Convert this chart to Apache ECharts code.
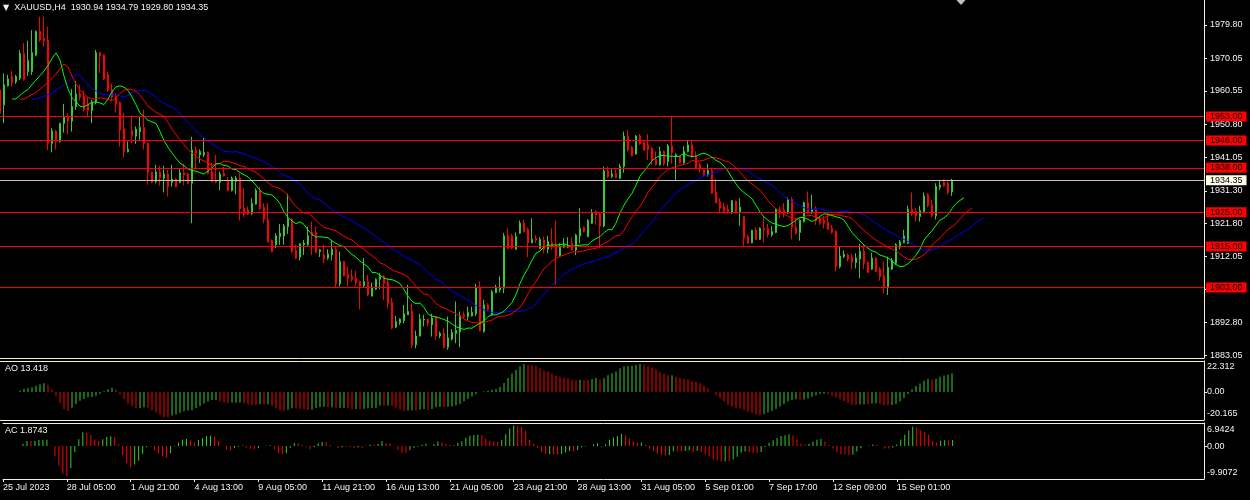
<!DOCTYPE html>
<html><head><meta charset="utf-8">
<script src="https://cdn.jsdelivr.net/npm/echarts@6/dist/echarts.min.js"></script>
<style>html,body{margin:0;padding:0;background:#000}#c{width:1250px;height:500px}</style>
</head><body><div id="c"></div>
<script>
// ---- data (XAUUSD H4) ----
const opens = [1960.8,1956.4,1962.0,1964.7,1963.2,1964.2,1971.5,1966.2,1966.2,1971.0,1977.9,1975.9,1975.4,1945.2,1948.8,1945.7,1951.0,1952.8,1951.7,1955.9,1959.6,1959.0,1956.7,1954.8,1957.2,1971.7,1971.0,1965.2,1960.8,1958.9,1957.1,1949.4,1942.8,1948.9,1947.3,1948.6,1949.8,1945.2,1936.7,1934.0,1936.8,1935.0,1936.2,1933.7,1934.7,1933.7,1936.6,1936.2,1933.5,1943.2,1941.8,1941.8,1942.5,1936.9,1934.5,1933.8,1936.4,1934.0,1931.4,1934.0,1935.0,1926.2,1925.7,1924.7,1927.4,1931.5,1926.4,1922.8,1916.7,1915.5,1917.9,1918.1,1920.8,1923.0,1913.8,1911.9,1915.5,1915.5,1919.1,1919.1,1913.5,1912.5,1911.6,1912.5,1914.2,1904.1,1910.6,1906.7,1906.2,1905.6,1904.7,1903.5,1904.7,1900.5,1902.5,1905.4,1906.2,1904.4,1898.6,1891.4,1892.7,1893.3,1895.0,1896.0,1886.2,1888.8,1893.5,1893.7,1892.1,1894.5,1888.8,1889.6,1885.5,1887.9,1889.6,1890.1,1895.0,1894.5,1894.7,1895.3,1903.1,1890.1,1897.9,1895.0,1901.5,1902.3,1902.8,1918.1,1918.1,1914.2,1918.9,1921.8,1920.0,1916.1,1917.4,1914.5,1916.9,1914.2,1916.1,1915.5,1912.2,1914.8,1914.8,1915.95,1914.0,1918.1,1920.6,1917.9,1921.8,1925.2,1924.5,1921.0,1937.1,1935.45,1936.4,1935.0,1938.4,1947.3,1944.0,1942.1,1947.3,1945.4,1944.7,1943.7,1940.5,1938.9,1942.8,1939.8,1944.4,1941.3,1941.3,1939.5,1942.8,1944.7,1941.3,1938.9,1937.4,1935.9,1937.2,1930.8,1928.1,1926.7,1925.9,1924.9,1928.3,1925.2,1923.75,1917.9,1916.1,1919.85,1917.1,1920.3,1920.3,1918.4,1919.1,1925.9,1925.7,1924.9,1928.8,1920.6,1919.1,1922.3,1927.8,1925.2,1925.9,1923.3,1922.6,1922.0,1920.3,1919.4,1909.1,1912.05,1912.5,1911.9,1910.3,1911.3,1913.5,1910.3,1908.35,1911.6,1908.35,1906.4,1903.1,1908.35,1910.1,1914.8,1916.1,1915.95,1925.9,1925.2,1923.75,1925.2,1930.1,1927.2,1923.95,1932.3,1933.7,1933.5,1930.94];
const closes = [1954.0,1962.3,1964.0,1962.9,1964.7,1971.5,1963.9,1969.4,1971.7,1977.9,1975.4,1975.2,1945.2,1948.8,1945.7,1951.0,1952.8,1951.7,1955.9,1959.6,1958.7,1955.0,1954.8,1957.2,1971.7,1970.7,1964.0,1960.8,1958.7,1956.6,1949.1,1942.8,1943.4,1947.3,1949.3,1949.8,1945.2,1936.6,1933.7,1936.8,1935.2,1936.2,1932.5,1934.7,1932.5,1936.6,1935.9,1933.5,1943.2,1942.1,1942.8,1942.5,1936.4,1934.0,1933.8,1936.2,1935.6,1931.4,1935.0,1935.0,1926.0,1924.5,1924.5,1927.6,1931.4,1926.0,1923.0,1916.4,1913.5,1918.1,1918.9,1921.0,1923.0,1913.5,1911.6,1915.75,1915.95,1918.1,1918.1,1913.2,1914.0,1911.3,1912.8,1914.2,1904.1,1910.6,1906.4,1905.7,1905.4,1904.4,1903.5,1904.7,1900.8,1903.1,1905.4,1906.2,1904.25,1898.4,1891.1,1893.0,1893.7,1895.3,1896.0,1886.2,1888.8,1893.7,1893.7,1892.55,1894.0,1888.8,1889.6,1885.5,1888.2,1889.8,1890.4,1894.7,1894.5,1895.7,1895.7,1903.1,1890.4,1897.9,1896.6,1901.8,1903.1,1902.8,1918.1,1914.5,1914.5,1917.9,1921.8,1919.4,1916.1,1917.1,1916.9,1917.1,1914.2,1916.4,1914.8,1912.2,1914.8,1915.5,1915.2,1914.0,1918.3,1920.3,1919.4,1922.6,1924.7,1924.2,1921.0,1937.1,1935.45,1936.2,1935.2,1938.4,1947.3,1943.2,1941.5,1947.3,1945.0,1943.2,1943.4,1940.3,1938.9,1942.8,1939.2,1944.4,1942.5,1941.8,1939.5,1942.8,1944.7,1941.3,1937.9,1937.9,1935.9,1937.2,1930.6,1927.8,1926.2,1925.2,1925.2,1928.4,1925.1,1926.5,1917.6,1915.95,1919.7,1917.1,1920.3,1919.85,1918.4,1919.4,1925.9,1925.2,1924.7,1928.8,1920.6,1918.9,1922.6,1927.8,1925.2,1925.9,1922.6,1921.8,1921.8,1920.0,1919.1,1909.1,1912.2,1912.7,1911.3,1910.3,1911.6,1913.5,1910.1,1907.4,1911.6,1907.7,1906.2,1903.1,1908.9,1910.9,1915.5,1916.4,1918.1,1925.9,1924.5,1923.95,1925.5,1929.8,1926.9,1923.95,1932.5,1933.0,1932.7,1930.8,1934.35];
const highs = [1963.2,1965.7,1965.2,1966.4,1965.2,1972.5,1974.5,1975.2,1978.3,1978.2,1982.2,1982.2,1979.3,1949.6,1949.1,1951.2,1956.7,1954.0,1961.1,1963.4,1962.3,1960.6,1958.7,1957.9,1972.5,1972.0,1971.2,1966.2,1962.7,1959.8,1957.4,1954.0,1945.7,1953.0,1950.1,1953.0,1955.0,1945.4,1936.9,1938.9,1938.6,1938.6,1937.4,1938.9,1935.0,1937.9,1939.2,1936.6,1947.1,1944.2,1943.4,1946.9,1942.8,1939.5,1941.8,1936.9,1938.4,1935.3,1935.5,1935.6,1936.4,1932.0,1926.7,1929.1,1932.0,1932.5,1927.65,1927.65,1917.1,1918.9,1921.6,1921.6,1930.4,1923.3,1915.5,1915.95,1916.9,1920.8,1922.3,1920.8,1914.2,1915.5,1914.2,1916.9,1914.8,1913.5,1910.8,1909.1,1908.2,1907.9,1905.0,1911.6,1906.7,1904.4,1905.7,1907.2,1906.7,1905.7,1899.9,1894.7,1894.0,1897.9,1903.8,1898.4,1890.4,1895.3,1895.0,1894.0,1895.3,1894.7,1890.1,1891.1,1894.5,1890.8,1898.9,1896.0,1896.0,1897.4,1897.4,1904.1,1904.7,1899.4,1898.4,1902.3,1903.8,1906.2,1918.9,1920.3,1918.7,1919.1,1922.6,1922.8,1920.6,1923.3,1918.3,1917.7,1917.9,1918.1,1920.3,1922.6,1915.95,1917.4,1917.7,1917.7,1918.7,1926.2,1920.8,1923.0,1925.9,1925.7,1924.9,1938.4,1938.4,1937.6,1937.6,1939.2,1948.6,1949.1,1944.4,1947.6,1947.9,1946.0,1947.9,1944.2,1942.8,1944.2,1943.1,1945.0,1953.0,1942.3,1941.6,1944.4,1946.2,1946.0,1942.8,1939.5,1937.6,1939.2,1937.9,1934.7,1929.1,1927.8,1927.2,1928.6,1928.4,1929.1,1923.9,1918.4,1919.85,1920.6,1920.6,1923.75,1921.6,1921.0,1926.2,1926.7,1927.65,1929.4,1929.4,1923.3,1923.0,1928.1,1931.1,1930.1,1926.7,1923.9,1923.9,1924.7,1921.3,1919.7,1915.0,1913.8,1913.0,1912.8,1913.0,1915.75,1915.5,1910.6,1913.2,1911.9,1908.9,1910.6,1912.05,1911.6,1915.95,1916.9,1919.85,1926.9,1930.8,1926.2,1926.9,1930.8,1930.6,1928.6,1933.5,1934.5,1934.7,1934.0,1934.79];
const lows = [1953.0,1951.1,1961.8,1961.8,1962.6,1963.7,1963.5,1964.9,1965.2,1970.6,1974.9,1973.5,1943.2,1942.5,1943.4,1945.4,1948.3,1947.8,1948.6,1955.0,1957.7,1954.5,1953.2,1951.1,1956.6,1965.7,1963.7,1960.3,1957.4,1954.2,1944.2,1941.0,1942.5,1945.2,1945.0,1946.2,1943.4,1933.0,1933.5,1933.5,1932.8,1930.8,1929.6,1932.5,1932.3,1933.5,1933.0,1933.3,1921.8,1937.6,1939.5,1941.1,1936.1,1933.8,1933.5,1931.4,1935.45,1931.1,1931.1,1930.3,1922.6,1923.6,1924.2,1924.2,1927.2,1925.7,1921.8,1916.2,1913.3,1914.5,1915.5,1915.5,1918.7,1913.0,1911.3,1910.9,1912.5,1915.2,1912.5,1913.0,1911.9,1910.1,1911.1,1910.9,1902.8,1903.3,1906.2,1903.5,1904.7,1903.3,1896.6,1902.8,1900.5,1900.35,1902.3,1902.5,1899.4,1896.9,1890.8,1891.1,1892.1,1892.55,1895.0,1885.2,1885.2,1888.65,1891.6,1891.6,1888.65,1887.7,1888.2,1885.2,1884.75,1887.5,1886.7,1885.5,1894.0,1893.5,1894.5,1894.7,1890.1,1889.8,1895.95,1894.7,1901.3,1901.5,1901.3,1914.2,1914.2,1914.0,1918.7,1919.1,1911.9,1915.95,1915.95,1914.2,1913.0,1913.0,1914.0,1903.8,1911.9,1914.5,1914.5,1913.8,1912.5,1915.95,1919.1,1917.7,1921.6,1921.3,1914.5,1920.6,1935.0,1935.0,1935.0,1934.7,1936.6,1942.8,1941.3,1941.8,1944.7,1943.1,1940.3,1938.9,1938.7,1938.6,1938.6,1938.4,1939.2,1934.5,1939.2,1939.2,1942.5,1940.8,1937.6,1936.6,1935.45,1935.45,1930.4,1927.65,1924.9,1924.7,1924.7,1924.5,1924.7,1921.0,1915.2,1915.75,1915.95,1916.9,1916.9,1916.1,1917.7,1917.9,1918.9,1923.3,1923.55,1924.5,1917.1,1918.4,1916.7,1922.0,1924.5,1924.5,1921.3,1921.3,1920.3,1919.85,1918.7,1907.7,1908.6,1911.6,1910.6,1908.35,1908.6,1905.7,1908.35,1907.2,1908.15,1907.4,1905.0,1901.3,1900.8,1908.15,1909.6,1914.2,1915.95,1915.75,1923.95,1922.3,1922.3,1924.9,1926.5,1923.55,1922.9,1931.55,1932.5,1930.1,1929.8];

const dateTicks = ['25 Jul 2023','28 Jul 05:00','1 Aug 21:00','4 Aug 13:00','9 Aug 05:00','11 Aug 21:00','16 Aug 13:00','21 Aug 05:00','23 Aug 21:00','28 Aug 13:00','31 Aug 05:00','5 Sep 01:00','7 Sep 17:00','12 Sep 09:00','15 Sep 01:00'];
const priceTicks = [1979.80,1970.05,1960.55,1950.80,1941.05,1931.30,1921.80,1912.05,1902.55,1892.80,1883.05];
const levels = [1953.00,1946.00,1938.00,1925.00,1915.00,1903.00];
const lastPrice = 1934.35;
const aoTicks = [22.312, 0, -20.165];
const acTicks = [6.9424, 0, -9.9072];
const headerText = 'XAUUSD,H4  1930.94 1934.79 1929.80 1934.35';
const aoTitle = 'AO 13.418';
const acTitle = 'AC 1.8743';

// ---- derived ----
const N = opens.length;
const SLOTS = 302;
const TICK_STEP = 16;
const cats = [];
for (let i = 0; i < SLOTS; i++) cats.push(i % TICK_STEP === 0 && dateTicks[i / TICK_STEP] ? dateTicks[i / TICK_STEP] : String(i));

const candle = opens.map((o, i) => [o, closes[i], lows[i], highs[i]]);
const median = highs.map((h, i) => (h + lows[i]) / 2);

function smma(src, n) { const r = []; let s = src[0]; for (let i = 0; i < src.length; i++) { s = i === 0 ? src[0] : (s * (n - 1) + src[i]) / n; r.push(s); } return r; }
function shifted(arr, sh) { const out = []; for (let j = 0; j < SLOTS; j++) { const k = j - sh; out.push(k >= 0 && k < arr.length ? +arr[k].toFixed(3) : '-'); } return out; }
function sma(src, n, i) { let s = 0, c = 0; for (let k = Math.max(0, i - n + 1); k <= i; k++) { s += src[k]; c++; } return s / c; }

const jaw = shifted(smma(median, 13), 8);
const teeth = shifted(smma(median, 8), 5);
const lips = shifted(smma(median, 5), 3);

const ao = median.map((_, i) => sma(median, 5, i) - sma(median, 34, i));
const ac = ao.map((v, i) => v - sma(ao, 5, i));

const UP = '#32cd32', DN = '#ff0000', CREAM = '#f0f0dc', TXT = '#f4f4f4';
const FONT = 'Liberation Sans';
function colorBars(arr) { return arr.map((v, i) => ({ value: +v.toFixed(4), itemStyle: { color: i > 0 && v > arr[i - 1] ? UP : DN } })); }

const gridBase = { left: 0, right: 46, show: false };
const tickFilter = (idx) => idx % TICK_STEP === 0 && idx < N;
function xAx(gi, pos, showLabels, showLine) {
  return {
    type: 'category', gridIndex: gi, data: cats, boundaryGap: false, position: pos,
    axisLine: { show: showLine, onZero: false, lineStyle: { color: CREAM, width: 1 } },
    axisTick: { show: showLabels, length: 3, interval: tickFilter, lineStyle: { color: CREAM } },
    axisLabel: { show: showLabels, interval: tickFilter, align: 'left', margin: 4, color: TXT, fontSize: 9, fontFamily: FONT },
    splitLine: { show: false }
  };
}
function indLabel(ticks, pad) {
  return {
    customValues: ticks, margin: 3, color: TXT, fontSize: 9, fontFamily: FONT,
    formatter: (v) => {
      if (Math.abs(v) < 1e-9) return '{m|0.00}';
      return v > 0 ? '{t|' + v + '}' : '{b|' + v + '}';
    },
    rich: {
      m: { fontSize: 9, fontFamily: FONT, color: TXT },
      t: { fontSize: 9, fontFamily: FONT, color: TXT, padding: [pad, 0, 0, 0] },
      b: { fontSize: 9, fontFamily: FONT, color: TXT, padding: [0, 0, pad, 0] }
    }
  };
}
const yLine = { show: true, lineStyle: { color: CREAM, width: 1 } };

const levelLines = levels.map(v => ({ yAxis: v, lineStyle: { color: '#ff0000' }, label: { backgroundColor: '#ff0000' } }));
levelLines.push({ yAxis: lastPrice, lineStyle: { color: '#c0c0c0' }, label: { backgroundColor: '#ffffe8' } });

const titleStyle = { color: TXT, fontSize: 9, fontWeight: 'normal', fontFamily: FONT };

const chart = echarts.init(document.getElementById('c'), null, { renderer: 'canvas' });
chart.setOption({
  backgroundColor: '#000000',
  animation: false,
  title: [
    { text: '{tri|▼}' + headerText, left: 3, top: 3, padding: 0, textStyle: Object.assign({}, titleStyle, { rich: { tri: { fontSize: 8, color: TXT, fontFamily: 'DejaVu Sans', padding: [0, 5, 0, 0] } } }) },
    { text: aoTitle, left: 5, top: 364, padding: 0, textStyle: titleStyle },
    { text: acTitle, left: 5, top: 426, padding: 0, textStyle: titleStyle }
  ],
  graphic: [{ type: 'polygon', shape: { points: [[956.5, 0], [965.5, 0], [961, 5]] }, style: { fill: '#c0c0c0' }, silent: true }],
  grid: [
    Object.assign({}, gridBase, { top: 0, height: 358 }),
    Object.assign({}, gridBase, { top: 361, height: 59 }),
    Object.assign({}, gridBase, { top: 423, height: 56 })
  ],
  xAxis: [
    xAx(0, 'bottom', false, true),
    xAx(1, 'bottom', false, true), xAx(1, 'top', false, true),
    xAx(2, 'bottom', true, true), xAx(2, 'top', false, true)
  ],
  yAxis: [
    { type: 'value', gridIndex: 0, position: 'right', min: 1882.37, max: 1987.11,
      splitLine: { show: false }, axisLine: yLine,
      axisTick: { show: true, length: 3, customValues: priceTicks, lineStyle: { color: CREAM } },
      axisLabel: { customValues: priceTicks, margin: 6, color: TXT, fontSize: 9, fontFamily: FONT, formatter: v => v.toFixed(2) } },
    { type: 'value', gridIndex: 1, position: 'right', min: aoTicks[2], max: aoTicks[0],
      splitLine: { show: false }, axisLine: yLine,
      axisTick: { show: true, length: 3, customValues: [0], lineStyle: { color: CREAM } },
      axisLabel: indLabel(aoTicks, 12) },
    { type: 'value', gridIndex: 2, position: 'right', min: acTicks[2], max: acTicks[0],
      splitLine: { show: false }, axisLine: yLine,
      axisTick: { show: true, length: 3, customValues: [0], lineStyle: { color: CREAM } },
      axisLabel: indLabel(acTicks, 13) }
  ],
  series: [
    { type: 'candlestick', xAxisIndex: 0, yAxisIndex: 0, data: candle, barWidth: 2,
      itemStyle: { color: UP, color0: DN, borderColor: UP, borderColor0: DN, borderWidth: 1 },
      markLine: { silent: true, symbol: ['none', 'none'], animation: false,
        lineStyle: { type: 'solid', width: 1 },
        label: { show: true, position: 'end', distance: 2, color: '#000', fontSize: 9, fontFamily: FONT, padding: [0, 4, 0, 4], lineHeight: 10, formatter: p => Number(p.value).toFixed(2) },
        data: levelLines } },
    { type: 'line', name: 'jaw', xAxisIndex: 0, yAxisIndex: 0, data: jaw, showSymbol: false, silent: true, lineStyle: { color: '#0000ff', width: 1 }, z: 3 },
    { type: 'line', name: 'teeth', xAxisIndex: 0, yAxisIndex: 0, data: teeth, showSymbol: false, silent: true, lineStyle: { color: '#ff0000', width: 1 }, z: 3 },
    { type: 'line', name: 'lips', xAxisIndex: 0, yAxisIndex: 0, data: lips, showSymbol: false, silent: true, lineStyle: { color: '#00ff00', width: 1 }, z: 3 },
    { type: 'bar', name: 'AO', xAxisIndex: 1, yAxisIndex: 1, data: colorBars(ao), barWidth: 1, silent: true },
    { type: 'bar', name: 'AC', xAxisIndex: 3, yAxisIndex: 2, data: colorBars(ac), barWidth: 1, silent: true }
  ]
});
</script></body></html>
